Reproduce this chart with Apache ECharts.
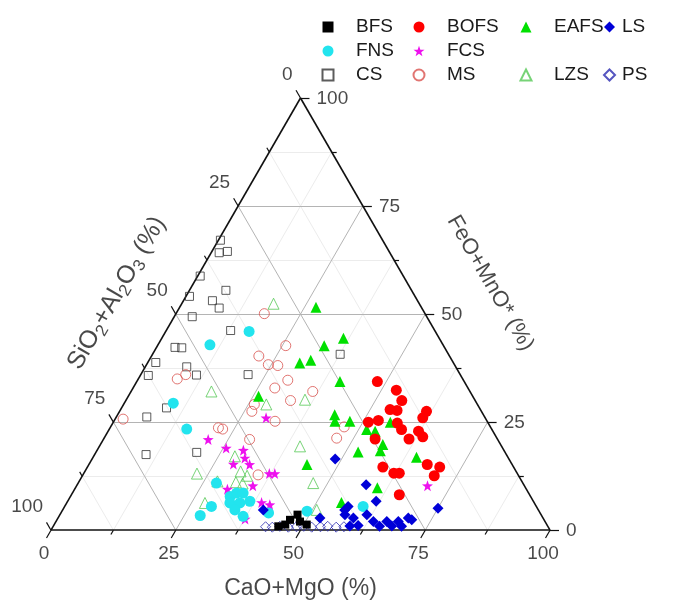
<!DOCTYPE html>
<html>
<head>
<meta charset="utf-8">
<script src="https://cdn.jsdelivr.net/npm/echarts@6/dist/echarts.min.js"></script>
<style>
html,body{margin:0;padding:0;background:#fff;}
#chart{width:677px;height:605px;}
</style>
</head>
<body>
<div id="chart"></div>
<script>
// Ternary data: each point is [CaO+MgO (%), FeO+MnO* (%)]; SiO2+Al2O3 = 100 - both
const tickValues = [0, 25, 50, 75, 100];
const tickLabels = ['0', '25', '50', '75', '100'];
const majorGrid = [25, 50, 75];
const minorGrid = [12.5, 37.5, 62.5, 87.5];

const BFS = [[47.6,3.6],[46.7,2.4],[48.9,2.0],[46.3,1.3],[50.6,1.3],[45.1,0.9]];
const BOFS = [[48.2,34.4],[53.0,32.4],[55.3,30.0],[54.0,27.9],[55.5,27.7],[61.5,27.5],[61.5,26.0],[52.9,25.4],[51.1,25.0],[57.0,24.8],[58.6,23.3],[62.2,22.9],[63.7,21.6],[61.2,21.1],[54.4,21.1],[59.2,14.6],[62.1,13.2],[63.2,13.2],[67.8,15.2],[70.6,14.6],[70.5,12.6],[65.7,8.2]];
const EAFS = [[27.3,51.6],[36.4,44.4],[33.4,42.7],[30.5,38.7],[32.4,39.3],[26.1,31.0],[43.7,15.2],[40.7,34.4],[43.5,26.7],[44.3,25.2],[47.3,25.2],[51.6,23.3],[53.5,22.9],[55.5,25.0],[56.6,19.8],[56.8,18.4],[52.5,18.1],[64.8,16.9],[60.5,9.8],[55.0,6.4]];
const LS = [[48.7,16.5],[57.9,10.5],[61.8,6.7],[56.8,5.5],[75.0,5.1],[40.2,4.7],[56.5,4.7],[52.5,2.8],[59.2,2.8],[57.1,3.6],[61.5,3.6],[63.6,2.0],[66.3,2.0],[68.6,2.0],[70.2,2.8],[71.1,2.4],[59.4,1.0],[61.0,1.1],[65.4,0.9],[67.8,1.0],[69.8,0.9]];
const FNS = [[16.7,46.0],[10.4,42.9],[9.8,29.4],[15.5,23.4],[27.7,10.9],[29.4,5.5],[32.0,7.8],[32.9,8.6],[34.2,8.6],[32.7,6.3],[34.7,6.3],[36.5,6.7],[34.5,4.7],[36.9,3.2],[41.6,4.0],[49.1,4.4],[59.8,5.5],[28.2,3.4]];
const FCS = [[30.1,26.0],[21.0,21.0],[25.6,19.0],[29.3,18.5],[30.5,16.7],[32.2,15.2],[28.9,15.3],[37.2,13.1],[38.3,13.1],[30.6,9.5],[35.3,10.3],[39.0,6.4],[40.9,5.9],[37.6,2.6],[70.3,10.3]];
const CS = [[0.4,67.1],[1.6,64.2],[3.1,64.5],[0.5,58.8],[7.3,55.5],[5.8,53.1],[8.0,51.4],[3.6,49.4],[0.7,54.1],[12.9,46.2],[37.6,40.7],[3.7,42.3],[5.1,42.2],[1.6,38.8],[1.6,35.8],[8.3,37.8],[11.2,35.9],[9.0,28.3],[6.1,26.2],[10.3,17.5],[20.2,18.0],[21.5,36.0]];
const MS = [[17.7,50.1],[25.7,42.7],[21.5,40.3],[7.8,35.0],[9.0,36.0],[1.6,25.7],[24.4,38.3],[26.4,38.1],[30.1,34.7],[28.4,32.9],[33.0,30.0],[36.4,32.1],[26.2,29.1],[26.5,27.5],[32.3,25.2],[21.7,23.7],[22.7,23.4],[29.3,21.0],[46.8,23.9],[46.6,21.3],[35.1,12.8]];
const LZS = [[18.4,52.4],[16.1,32.1],[28.6,29.1],[35.8,30.2],[40.2,19.4],[28.3,17.1],[31.2,13.6],[33.0,12.6],[31.5,11.1],[33.0,10.8],[27.7,11.3],[47.1,10.9],[50.9,4.7],[22.7,13.1],[27.7,6.3]];
const PS = [[42.6,0.8],[44.0,0.7],[45.4,0.9],[47.2,0.7],[48.8,0.8],[50.2,0.9],[51.9,0.7],[53.6,0.8],[55.0,0.9],[56.8,0.7],[58.3,0.8]];

const H = Math.sqrt(3) / 2;
function tx(c, f) { return [c + f / 2, f * H]; }
function conv(arr) { return arr.map(d => tx(d[0], d[1])); }

const FONT = 'Liberation Sans, Arial, sans-serif';
const TXT = '#1a1a1a';

function gridLines(vals) {
  const out = [];
  vals.forEach(v => {
    out.push({coords: [tx(v, 0), tx(v, 100 - v)]});
    out.push({coords: [tx(0, v), tx(100 - v, v)]});
    out.push({coords: [tx(100 - v, 0), tx(0, 100 - v)]});
  });
  return out;
}
function ticks(vals, len) {
  const out = [];
  vals.forEach(v => {
    let p = tx(v, 0); out.push({coords: [p, [p[0] - 0.5 * len, p[1] - H * len]]});
    p = tx(100 - v, v); out.push({coords: [p, [p[0] + len, p[1]]]});
    p = tx(0, 100 - v); out.push({coords: [p, [p[0] - 0.5 * len, p[1] + H * len]]});
  });
  return out;
}

const starPath = 'path://M0,-10 L2.35,-3.24 L9.51,-3.09 L3.8,1.24 L5.88,8.09 L0,4 L-5.88,8.09 L-3.8,1.24 L-9.51,-3.09 L-2.35,-3.24 Z';

function pts(name, data, symbol, size, fill, stroke) {
  const hollow = fill === null;
  return {
    name: name, type: 'scatter', data: conv(data), symbol: symbol, symbolSize: size,
    clip: false, z: 5,
    itemStyle: hollow ? {color: 'rgba(255,255,255,0)', borderColor: stroke, borderWidth: 1} : {color: fill, opacity: 1},
    emphasis: {disabled: true}
  };
}

function labelSeries(data, formatter, labelOpts) {
  return {
    type: 'scatter', data: data, symbolSize: 0, silent: true, clip: false, z: 6,
    label: Object.assign({show: true, formatter: formatter, color: TXT, fontFamily: FONT, fontSize: 19, position: 'inside'}, labelOpts)
  };
}

function rotOffset(dx, dy, deg) {
  const t = deg * Math.PI / 180;
  return [dx * Math.cos(t) - dy * Math.sin(t), dx * Math.sin(t) + dy * Math.cos(t)];
}

const bottomTickData = tickValues.map((v, i) => ({value: tx(v, 0), name: tickLabels[i]}));
const rightTickData = tickValues.map((v, i) => ({value: tx(100 - v, v), name: tickLabels[i]}));
const leftTickData = tickValues.map((v, i) => ({value: tx(0, 100 - v), name: tickLabels[i]}));

function legendCol(left, pad, gap, names) {
  return {
    orient: 'vertical', left: left, top: 12, itemWidth: 11, itemHeight: 11, itemGap: gap,
    textStyle: {fontFamily: FONT, fontSize: 19, color: TXT, lineHeight: 20, padding: [0, 0, 0, pad]},
    selectedMode: false, data: names
  };
}

const option = {
  animation: false,
  backgroundColor: '#fff',
  grid: {left: 51, top: 98, width: 499, height: 432.2, containLabel: false},
  xAxis: {type: 'value', min: 0, max: 100, show: false},
  yAxis: {type: 'value', min: 0, max: 100 * H, show: false},
  legend: [
    legendCol(316.5, 17.5, 4, ['BFS', 'FNS', 'CS']),
    legendCol(407.5, 17.5, 4, ['BOFS', 'FCS', 'MS']),
    legendCol(514.5, 17.5, 28, ['EAFS', 'LZS']),
    legendCol(598, 2, 28, ['LS', 'PS'])
  ],
  series: [
    {type: 'lines', coordinateSystem: 'cartesian2d', data: gridLines(minorGrid), silent: true, clip: false, z: 1,
     lineStyle: {color: '#ececec', width: 1, opacity: 1}},
    {type: 'lines', coordinateSystem: 'cartesian2d', data: gridLines(majorGrid), silent: true, clip: false, z: 2,
     lineStyle: {color: '#b4b4b4', width: 1, opacity: 1}},
    {type: 'lines', coordinateSystem: 'cartesian2d', silent: true, clip: false, z: 3,
     data: [{coords: [tx(0, 0), tx(100, 0)]}, {coords: [tx(100, 0), tx(0, 100)]}, {coords: [tx(0, 100), tx(0, 0)]}],
     lineStyle: {color: '#111', width: 1.6, opacity: 1}},
    {type: 'lines', coordinateSystem: 'cartesian2d', data: ticks(tickValues, 1.8), silent: true, clip: false, z: 3,
     lineStyle: {color: '#111', width: 1.2, opacity: 1}},
    {type: 'lines', coordinateSystem: 'cartesian2d', data: ticks(minorGrid, 1.0), silent: true, clip: false, z: 3,
     lineStyle: {color: '#111', width: 1.2, opacity: 1}},
    labelSeries(bottomTickData, p => p.name, {offset: [-7, 24], align: 'center', verticalAlign: 'middle'}),
    labelSeries(rightTickData, p => p.name, {offset: [16, 1], align: 'left', verticalAlign: 'middle'}),
    labelSeries(leftTickData, p => p.name, {offset: [-8, -23], align: 'right', verticalAlign: 'middle'}),
    labelSeries([{value: tx(50, 0), name: 'CaO+MgO (%)'}], p => p.name,
      {fontSize: 23, offset: [0, 58], align: 'center', verticalAlign: 'middle'}),
    labelSeries([{value: tx(0, 50), name: 't'}], () => 'SiO{s|2}+Al{s|2}O{s|3} (%)',
      {fontSize: 25, rotate: 60, offset: rotOffset(-59, -21, 60), align: 'center', verticalAlign: 'middle', lineHeight: 30,
       rich: {s: {fontSize: 17, fontFamily: FONT, color: TXT, verticalAlign: 'bottom', lineHeight: 22}}}),
    labelSeries([{value: tx(50, 50), name: 'FeO+MnO* (%)'}], p => p.name,
      {fontSize: 22, rotate: -60, offset: rotOffset(65, -31, -60), align: 'center', verticalAlign: 'middle'}),
    pts('CS', CS, 'rect', 8, null, '#333'),
    pts('MS', MS, 'circle', 10, null, '#d9534f'),
    pts('LZS', LZS, 'triangle', 11, null, '#55c855'),
    pts('PS', PS, 'diamond', 10, null, '#2a2ab0'),
    pts('EAFS', EAFS, 'triangle', 11, '#00e000'),
    pts('BOFS', BOFS, 'circle', 11, '#ff0000'),
    pts('FCS', FCS, starPath, 11, '#ee11ee'),
    pts('FNS', FNS, 'circle', 11, '#22e4ee'),
    pts('LS', LS, 'diamond', 11, '#0000d8'),
    pts('BFS', BFS, 'rect', 8, '#000000')
  ]
};

const chart = echarts.init(document.getElementById('chart'), null, {renderer: 'canvas'});
chart.setOption(option);
</script>
</body>
</html>
